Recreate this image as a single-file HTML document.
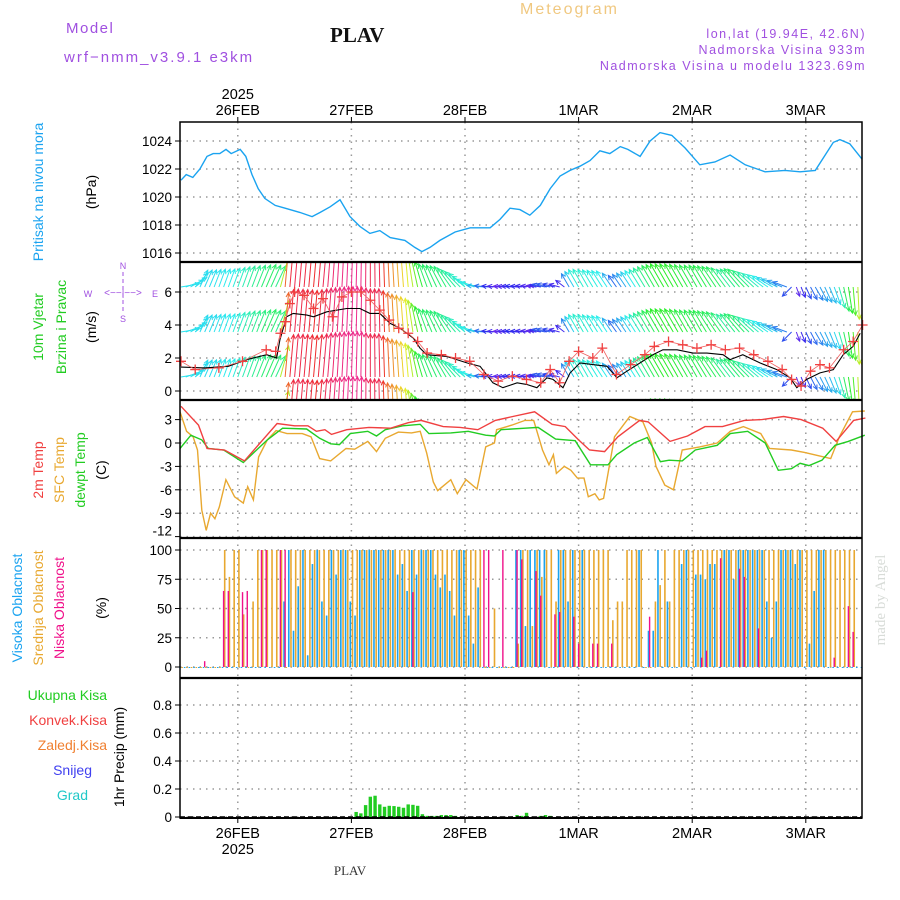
<!DOCTYPE html>
<html><head><meta charset="utf-8"><style>
html,body{margin:0;padding:0;background:#fff}
svg{display:block;font-family:"Liberation Sans",sans-serif}
</style></head><body>
<svg id="c" width="900" height="900" viewBox="0 0 900 900">
<defs><clipPath id="wclip"><rect x="180" y="263" width="682" height="136"/></clipPath></defs>
<g>
<text x="66" y="33" font-size="15" fill="#a050e0" letter-spacing="1.5">Model</text>
<text x="64" y="62" font-size="15" fill="#a050e0" letter-spacing="2">wrf−nmm_v3.9.1  e3km</text>
<text x="330" y="42" font-size="21" font-weight="bold" font-family="Liberation Serif,serif" fill="#111">PLAV</text>
<text x="520" y="14" font-size="16" fill="#f0c880" letter-spacing="2">Meteogram</text>
<text x="866" y="38" font-size="12.5" fill="#a050e0" letter-spacing="1.5" text-anchor="end">lon,lat (19.94E, 42.6N)</text>
<text x="866" y="54" font-size="12.5" fill="#a050e0" letter-spacing="1.5" text-anchor="end">Nadmorska Visina 933m</text>
<text x="866" y="70" font-size="12.5" fill="#a050e0" letter-spacing="1.5" text-anchor="end">Nadmorska Visina u modelu 1323.69m</text>
</g>
<g font-size="14">
<text transform="translate(43,192) rotate(-90)" text-anchor="middle" fill="#1aa3f0">Pritisak na nivou mora</text>
<text transform="translate(96,192) rotate(-90)" text-anchor="middle" fill="#000">(hPa)</text>
<text transform="translate(43,327) rotate(-90)" text-anchor="middle" fill="#22cc22">10m Vjetar</text>
<text transform="translate(66,327) rotate(-90)" text-anchor="middle" fill="#22cc22">Brzina i Pravac</text>
<text transform="translate(96,327) rotate(-90)" text-anchor="middle" fill="#000">(m/s)</text>
<g fill="#a050e0" font-size="9">
<text x="123" y="269" text-anchor="middle">N</text><text x="123" y="322" text-anchor="middle">S</text>
<text x="88" y="297" text-anchor="middle">W</text><text x="155" y="297" text-anchor="middle">E</text>
<text x="123" y="296" text-anchor="middle" font-size="10">&lt;−−|−−&gt;</text>
<line x1="123" y1="272" x2="123" y2="312" stroke="#a050e0" stroke-dasharray="4,3"/>
</g>
<text transform="translate(43,470) rotate(-90)" text-anchor="middle" fill="#f04040">2m Temp</text>
<text transform="translate(64,470) rotate(-90)" text-anchor="middle" fill="#e8a830">SFC Temp</text>
<text transform="translate(85,470) rotate(-90)" text-anchor="middle" fill="#22cc22">dewpt Temp</text>
<text transform="translate(106,470) rotate(-90)" text-anchor="middle" fill="#000">(C)</text>
<text transform="translate(22,608) rotate(-90)" text-anchor="middle" fill="#1aa3f0">Visoka Oblacnost</text>
<text transform="translate(43,608) rotate(-90)" text-anchor="middle" fill="#e8a830">Srednja Oblacnost</text>
<text transform="translate(64,608) rotate(-90)" text-anchor="middle" fill="#f0108a">Niska Oblacnost</text>
<text transform="translate(106,608) rotate(-90)" text-anchor="middle" fill="#000">(%)</text>
<text x="107" y="700" text-anchor="end" fill="#22cc22">Ukupna Kisa</text>
<text x="107" y="725" text-anchor="end" fill="#f04040">Konvek.Kisa</text>
<text x="107" y="750" text-anchor="end" fill="#f08030">Zaledj.Kisa</text>
<text x="92" y="775" text-anchor="end" fill="#4040f0">Snijeg</text>
<text x="88" y="800" text-anchor="end" fill="#20c8c8">Grad</text>
<text transform="translate(124,757) rotate(-90)" text-anchor="middle" fill="#000">1hr Precip (mm)</text>
<text transform="translate(885,600) rotate(-90)" text-anchor="middle" fill="#d8dcd8" font-family="Liberation Serif,serif" font-size="15">made by Angel</text>
<text x="350" y="875" text-anchor="middle" font-family="Liberation Serif,serif" font-size="13" fill="#333">PLAV</text>
</g>
<g id="plot"></g>
</svg>
<script>
// ---------- data ----------
const dayLabels=["26FEB","27FEB","28FEB","1MAR","2MAR","3MAR"];
const dayHours=[12,36,60,84,108,132];
const presTicks=[1016,1018,1020,1022,1024];
const windTicks=[0,2,4,6];
const tempTicks=[3,0,-3,-6,-9,-12];
const cloudTicks=[0,25,50,75,100];
const precTicks=[0,0.2,0.4,0.6,0.8];
const presH=[0,1.1,2.5,4,5.5,6.8,8.2,9.5,10.6,12.5,13.7,15,16.3,17.7,19.9,22,25.1,27.7,29.4,31.5,33.6,35.7,37.8,39.9,42,44.2,47.3,49.4,50.9,52.6,54.7,57.9,61.1,65.3,67.4,69.5,71.6,73.7,75.9,78,80.1,82.2,84.3,86.4,88.5,90.6,92.8,94.4,97,99.1,101.2,103.7,106.5,109.6,112.8,116,119.2,123.4,127.6,130.8,134,136.1,137.8,139.2,141.3,143.9];
const presV=[1021.2,1021.6,1021.4,1022,1022.9,1023.1,1023.1,1023.4,1023.1,1023.4,1022.9,1021.6,1020.6,1019.9,1019.4,1019.2,1018.9,1018.6,1018.9,1019.3,1019.8,1018.6,1017.9,1017.4,1017.6,1017.1,1016.9,1016.4,1016.1,1016.4,1016.9,1017.5,1017.8,1017.8,1018.4,1019.2,1019.1,1018.7,1019.4,1020.6,1021.5,1021.9,1022.2,1022.6,1023.3,1023.1,1023.6,1023.4,1022.9,1024,1024.6,1024.4,1023.5,1022.3,1022.5,1023,1022.3,1021.8,1021.9,1021.8,1021.9,1023,1023.9,1024.1,1023.8,1022.7];
const spdH=[0,5,10,13.9,18.1,20.2,20.9,22.3,23.7,26.6,28,30.8,35,37.8,39.9,42,44.2,46.3,49.1,50.5,51.9,56.1,60.4,63.2,65.9,68,71,73,75.2,77.3,78.6,80.7,82.2,84.3,87,90,92.1,94.2,97,99.7,101.8,104.8,108.2,111.1,114.5,116,118.7,122.3,125.9,128.7,130.1,132.2,135,137.8,139.9,142,143.5];
const spdV=[1.45,1.4,1.5,1.9,2.2,2,3.1,4.5,4.7,4.6,4.5,4.8,5,5,4.7,4.7,4.1,3.8,3.2,2.6,2.2,2.1,1.7,1.5,0.5,0.2,0.5,0.4,0.2,0.8,0.7,0.2,1.1,1.7,1.6,1.5,0.8,1.2,1.7,2.2,2.5,2.5,2.3,2.3,2.2,1.9,2.2,1.7,1.3,0.8,0.2,0.7,1.1,1.3,2.2,2.7,3.5];
const gustH=[0,3,8,13,18,20,21,22,23,24,26,28,30,32,34,36,38,40,42,44,46,48,50,52,55,58,61,64,67,70,73,76,78,80,82,84,87,89,92,95,98,100,103,106,109,112,115,118,121,124,127,129,131,133,135,137,140,142,144];
const gustV=[1.8,1.3,1.4,1.8,2.5,2.4,3.5,4.2,5.3,6,5.8,5,5.6,4.5,5.7,6,6,5.5,4.9,4.3,3.8,3.5,3,2.3,2.2,2,1.8,1,0.6,0.9,0.7,0.5,1.3,0.5,1.8,2.4,2,2.6,1,1.6,2.2,2.7,3,2.8,2.6,2.8,2.5,2.6,2.2,1.8,1.3,0.7,0.3,1.2,1.6,1.4,2.5,3,4];
const dirH=[0,2,4,8,14,20,22,30,40,48,52,56,60,64,72,80,82,86,92,100,110,118,124,128,130,134,138,142,144];
const dirA=[80,60,25,20,20,25,5,5,0,-5,-20,-30,-50,-85,-85,-75,-30,-30,-35,-30,-30,-40,-55,-70,-200,-210,-200,-185,-180];
const t2H=[0,3.7,5.5,9.2,13.4,20.3,24,26.8,28.6,30.4,31.8,35,39.7,44.3,48,50.7,55.4,59,62.7,66.4,70.1,74.7,78.4,81.2,84,86.3,89.5,92.3,96.9,98.7,103.3,107,110.7,114.4,119,122.7,127.3,131,135.6,138.4,142.1,144.6];
const t2V=[4.7,2.3,-0.7,-0.9,-2.3,2.5,2.2,2.2,1.5,1.7,1.1,1.7,2,1.9,2.6,2.9,2.1,2,1.7,2.9,3.4,4,2.4,2.1,0.4,-0.9,-1.1,0.8,2.9,2.7,0.2,0.9,2.1,2.1,2.9,3,3.4,3,1.9,0.2,2.9,3.2];
const tdZ=[0,25,50,65,100,145,200,235,290,320,345,365,390,430,450,470,510,550,570,620,660,700,720,735,790,820,860,905,940,960,980,1000,1040,1070,1100,1120,1150,1180,1230,1260,1300,1340,1370,1400,1420,1440,1470,1500,1530,1568];
const tdV=[-0.7,1,0.4,-0.7,-0.9,-2.5,0.4,1.9,1.8,0.6,-0.1,-0.2,1.2,1.5,0.9,1.7,2.2,2.4,1.2,1.3,1.5,1,0.9,1.7,1.9,2,0.5,0.3,-2.8,-2.8,-2.8,-1.5,0,0.7,-2.4,-2.2,-2.3,-0.9,-0.3,1.2,1.5,0,-3.5,-3.3,-2.6,-2.9,-2.2,-0.3,0.2,1];
const tsZ=[0,15,30,40,50,60,70,80,90,105,125,145,155,168,180,200,220,245,280,300,320,345,380,400,430,450,470,500,530,550,565,580,590,620,635,655,680,700,720,725,760,790,810,830,845,855,862,880,895,910,925,935,950,960,970,995,1030,1060,1080,1090,1110,1130,1150,1190,1230,1260,1290,1330,1350,1400,1430,1490,1510,1540,1568];
const tsV=[4,1.5,0.8,-0.9,-8.6,-11.2,-9,-9.7,-8.2,-4.7,-6.9,-7.7,-5.6,-7.3,-1.8,0.4,1.6,1.2,1.2,0.8,-2,-2.3,-0.7,-0.8,0.2,-1.1,0.6,1.4,1.3,1.5,-1.3,-5,-6.1,-4.7,-6.5,-4.7,-5.9,-0.5,0,1.7,2.3,2.9,2.9,-0.9,-2.8,-1.5,-3.9,-3,-3.5,-4.5,-4.5,-6.9,-6.5,-7.3,-7.1,0.8,3.4,2.7,0,-3,-5.4,-6,-0.9,-0.5,0,1.5,2.1,1.2,-0.7,-0.9,-1.2,-2,0.8,4,4.1];
const midCloud=[0,0,0,0,0,0,0,0,0,100,77,100,100,45,0,56,100,100,100,100,100,100,0,100,100,100,100,100,100,100,100,100,100,100,100,100,100,100,100,100,100,100,100,100,100,100,100,100,100,100,100,100,100,100,100,100,100,100,100,100,100,100,100,100,0,0,50,0,0,0,0,20,
100,100,35,100,77,100,100,56,100,100,100,100,100,100,100,100,100,100,100,40,56,56,100,100,100,100,0,0,56,70,100,56,100,100,100,100,100,100,100,100,100,100,100,100,100,100,100,100,100,100,100,100,100,100,100,100,100,100,100,100,100,100,100,100,100,100,100,100,100,100,100];
const highCloud=[0,0,0,0,0,0,0,0,0,0,0,0,0,0,0,0,0,0,0,0,0,0,56,100,31,69,100,10,88,100,56,44,100,79,100,100,56,44,100,100,100,100,100,100,100,100,79,88,65,100,79,100,100,100,79,68,79,65,44,100,100,44,20,68,0,0,0,0,0,0,0,100,
100,35,100,100,100,100,0,0,100,100,56,100,0,100,0,0,0,0,0,0,0,0,0,0,0,100,0,31,31,100,0,56,0,0,88,100,0,79,79,75,88,88,0,100,100,75,100,100,100,100,100,100,56,25,56,100,100,100,88,100,0,20,65,100,100,0,0,0,0,0,0,0,0];
const lowH=[5,9,10,13,14,17,18,21,22,49,64,65,68,71,72,75,76,79,80,83,84,87,88,91,99,110,111,114,118,119,122,138,141,142];
const lowV=[5,65,65,64,65,100,100,100,100,64,100,100,100,100,92,82,61,45,47,43,20,20,20,20,43,8,14,93,84,77,33,8,52,30];
const precH=[37,38,39,40,41,42,43,44,45,46,47,48,49,50,51,52,53,54,55,56,57,58,71,72,73,76,77,78];
const precV=[0.036,0.026,0.085,0.145,0.152,0.09,0.073,0.08,0.078,0.073,0.066,0.09,0.087,0.08,0.02,0.008,0.008,0.008,0.014,0.014,0.014,0.008,0.014,0.008,0.03,0.008,0.014,0.008];

// ---------- scales ----------
const X0=180,X1=862;
const xs=h=>181+h*113.6/24;
const yP=v=>253-(v-1016)*14;
const yW=v=>391-v*16.5;
const yT=v=>443-v*7.8;
const yC=v=>667-v*1.17;
const yR=v=>817-v*140;
const zh=z=>(z/2.29-1)/4.733;
const NS="http://www.w3.org/2000/svg";
const plot=document.getElementById('plot');
function mk(tag,attrs,parent){const e=document.createElementNS(NS,tag);for(const k in attrs)e.setAttribute(k,attrs[k]);(parent||plot).appendChild(e);return e;}
function interp(H,V,h){if(h<=H[0])return V[0];for(let i=1;i<H.length;i++){if(h<=H[i]){const f=(h-H[i-1])/(H[i]-H[i-1]);return V[i-1]+f*(V[i]-V[i-1]);}}return V[V.length-1];}
function pathOf(H,V,ys){return H.map((h,i)=>(i?'L':'M')+xs(h).toFixed(1)+','+ys(V[i]).toFixed(1)).join('');}

const panels=[
 {name:'pressure',top:122,bot:262,ticks:presTicks,ys:yP,fmt:v=>v},
 {name:'wind',top:262,bot:400,ticks:windTicks,ys:yW,fmt:v=>v},
 {name:'temp',top:400,bot:538,ticks:tempTicks,ys:yT,fmt:v=>v},
 {name:'cloud',top:538,bot:678,ticks:cloudTicks,ys:yC,fmt:v=>v},
 {name:'precip',top:678,bot:818,ticks:precTicks,ys:yR,fmt:v=>v===0?'0':v.toFixed(1)}
];
panels.forEach(p=>{
 const g=mk('g',{});
 
 
 dayHours.forEach(h=>{const l=mk('line',{x1:xs(h),x2:xs(h),y1:p.top,y2:p.bot,stroke:'#999','stroke-width':1.5,'stroke-dasharray':'1.5,5'},g);
  });
 p.ticks.forEach(v=>{const y=p.ys(v);
  const l=mk('line',{x1:X0,x2:X1,y1:y,y2:y,stroke:'#999','stroke-width':1.5,'stroke-dasharray':'1.5,5'},g);
  
  mk('line',{x1:X0-5,x2:X0,y1:y,y2:y,stroke:'#000'},g);
  let ty=y+5; if(p.name==='temp'&&v===-12)ty=y-1;
  const t=mk('text',{x:X0-8,y:ty,'text-anchor':'end','font-size':13.5,fill:'#000'},g);t.textContent=p.fmt(v);
  
 });
});

// pressure
const pp=mk('path',{d:pathOf(presH,presV,yP),fill:'none',stroke:'#1aa3f0','stroke-width':1.4});


// wind arrows
const wg=mk('g',{'clip-path':'url(#wclip)'});

for(let h=0;h<=144;h++){
 const s=Math.max(0,interp(spdH,spdV,h));const a=interp(dirH,dirA,h)*Math.PI/180;
 const L=8+7.5*s;const hue=((270-60*s)%360+360)%360;const col='hsl('+hue+',85%,55%)';
 [287,332,377,422].forEach(b=>{
  const x=xs(h),x2=x+L*Math.sin(a),y2=b-L*Math.cos(a);
  const ah=a+Math.PI;
  const p1x=x2+5*Math.sin(ah+0.45),p1y=y2-5*Math.cos(ah+0.45),p2x=x2+5*Math.sin(ah-0.45),p2y=y2-5*Math.cos(ah-0.45);
  const ar=mk('path',{d:`M${x},${b}L${x2},${y2}M${p1x},${p1y}L${x2},${y2}L${p2x},${p2y}`,stroke:col,'stroke-width':1,fill:'none'},wg);
  
 });
}
const sp=mk('path',{d:pathOf(spdH,spdV,yW),fill:'none',stroke:'#000','stroke-width':1.1});

const gg=mk('g',{stroke:'#f04040','stroke-width':1.3});

mk('path',{d:pathOf(gustH,gustV,yW),fill:'none',stroke:'#f06060','stroke-width':0.8},gg);
gustH.forEach((h,i)=>{const x=xs(h),y=yW(gustV[i]);const m=mk('path',{d:`M${x-5},${y}h10M${x},${y-5}v10`},gg);
 });

// temps
[[tsZ.map(zh),tsV,'#e8a830','sfc-temp-line'],[tdZ.map(zh),tdV,'#22cc22','dewpoint-line'],[t2H,t2V,'#f04040','temp-2m-line']].forEach(s=>{
 const p=mk('path',{d:pathOf(s[0],s[1],yT),fill:'none',stroke:s[2],'stroke-width':1.4});
 
});

// clouds
const cg=mk('g',{});
midCloud.forEach((v,h)=>{const x=xs(h);const y=yC(v);
 const r=mk('rect',{x:x+0.3,y:y,width:1.6,height:Math.max(1,667-y),fill:'#e8a830'},cg);
 });
highCloud.forEach((v,h)=>{const x=xs(h);const y=yC(v);
 const r=mk('rect',{x:x-1.9,y:y,width:1.6,height:Math.max(1,667-y),fill:'#1aa3f0'},cg);
 });
lowH.forEach((h,i)=>{const x=xs(h);const y=yC(lowV[i]);
 const r=mk('rect',{x:x-0.7,y:y,width:1.4,height:667-y,fill:'#f0108a'},cg);
 });

// precip
const rg=mk('g',{});
precH.forEach((h,i)=>{const x=xs(h);const y=yR(precV[i]);
 const r=mk('rect',{x:x-1.7,y:y,width:3.4,height:817-y,fill:'#22cc22'},rg);
 });
mk('line',{x1:X0,x2:X1,y1:817,y2:817,stroke:'#000','stroke-width':1.5,'stroke-dasharray':'5,3'});

// frames
const fr=mk('g',{fill:'none',stroke:'#000'});
mk('rect',{x:X0,y:122,width:X1-X0,height:696,'stroke-width':1.5},fr);
[262,400,538,678].forEach(y=>mk('line',{x1:X0,x2:X1,y1:y,y2:y,'stroke-width':2.2},fr));
mk('line',{x1:X0,x2:X1,y1:818,y2:818,'stroke-width':2},fr);

// day axis labels
dayHours.forEach((h,i)=>{const x=xs(h);
 mk('line',{x1:x,x2:x,y1:117,y2:122,stroke:'#000'});mk('line',{x1:x,x2:x,y1:818,y2:823,stroke:'#000'});
 const t=mk('text',{x:x,y:115,'text-anchor':'middle','font-size':14.5,fill:'#000'});t.textContent=dayLabels[i];
 
 const b=mk('text',{x:x,y:838,'text-anchor':'middle','font-size':14.5,fill:'#000'});b.textContent=dayLabels[i];
 
});
const y1=mk('text',{x:xs(12),y:99,'text-anchor':'middle','font-size':14.5});y1.textContent='2025';

const y2=mk('text',{x:xs(12),y:854,'text-anchor':'middle','font-size':14.5});y2.textContent='2025';

</script>
</body></html>
